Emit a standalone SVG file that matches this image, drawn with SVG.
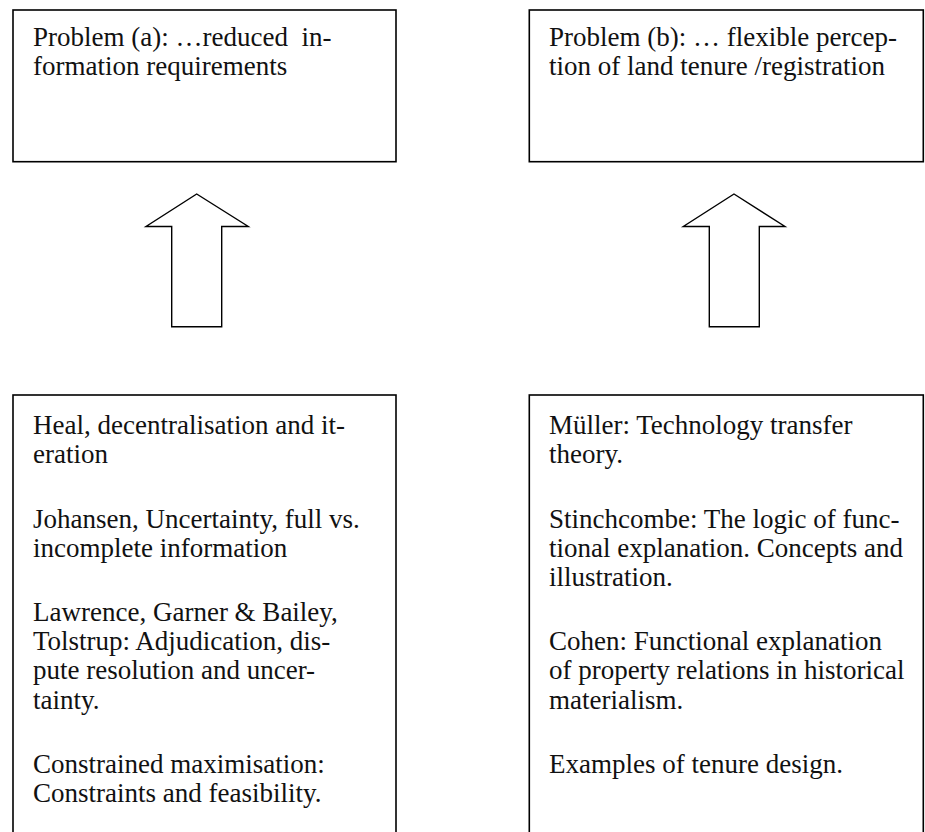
<svg xmlns="http://www.w3.org/2000/svg" width="925" height="832" viewBox="0 0 925 832">
  <style>
    .box { fill: #ffffff; stroke: #000000; stroke-width: 1.6; }
    .arrow { fill: #ffffff; stroke: #000000; stroke-width: 1.4; stroke-linejoin: miter; }
    text { font-family: 'Liberation Serif', 'Times New Roman', Times, 'DejaVu Serif', serif; font-size: 27px; fill: #111111; }
  </style>
  <rect width="925" height="832" fill="#ffffff"/>

  <!-- upper boxes: the two problems -->
  <g id="problem-a">
    <rect class="box" x="13" y="10" width="383" height="151.7"/>
    <text xml:space="preserve" x="33" y="45.7">Problem (a): …reduced  in-</text>
    <text x="33" y="75">formation requirements</text>
  </g>
  <g id="problem-b">
    <rect class="box" x="529.3" y="10" width="394" height="151.7"/>
    <text x="549" y="45.7">Problem (b): … flexible percep-</text>
    <text x="549" y="75">tion of land tenure /registration</text>
  </g>

  <!-- lower boxes: the theories behind each problem -->
  <g id="theories-a">
    <rect class="box" x="13" y="395" width="383" height="460"/>
    <text x="33" y="434">Heal, decentralisation and it-</text>
    <text x="33" y="463.2">eration</text>
    <text x="33" y="527.5">Johansen, Uncertainty, full vs.</text>
    <text x="33" y="556.7">incomplete information</text>
    <text x="33" y="621">Lawrence, Garner &amp; Bailey,</text>
    <text x="33" y="650.2">Tolstrup: Adjudication, dis-</text>
    <text x="33" y="679.4">pute resolution and uncer-</text>
    <text x="33" y="708.6">tainty.</text>
    <text x="33" y="772.9">Constrained maximisation:</text>
    <text x="33" y="802.1">Constraints and feasibility.</text>
  </g>
  <g id="theories-b">
    <rect class="box" x="529.3" y="395" width="394" height="460"/>
    <text x="549" y="434">Müller: Technology transfer</text>
    <text x="549" y="463.2">theory.</text>
    <text x="549" y="527.5">Stinchcombe: The logic of func-</text>
    <text x="549" y="556.7">tional explanation. Concepts and</text>
    <text x="549" y="585.9">illustration.</text>
    <text x="549" y="650.2">Cohen: Functional explanation</text>
    <text x="549" y="679.4">of property relations in historical</text>
    <text x="549" y="708.6">materialism.</text>
    <text x="549" y="772.9">Examples of tenure design.</text>
  </g>

  <!-- block arrows pointing from theories up to problems -->
  <g id="connectors">
    <polygon class="arrow" points="196.7,194 248.3,226.5 221.7,226.5 221.7,326.8 171.7,326.8 171.7,226.5 146,226.5"/>
    <polygon class="arrow" points="734,194 785,226.5 759.3,226.5 759.3,326.8 709.3,326.8 709.3,226.5 683.3,226.5"/>
  </g>
</svg>
